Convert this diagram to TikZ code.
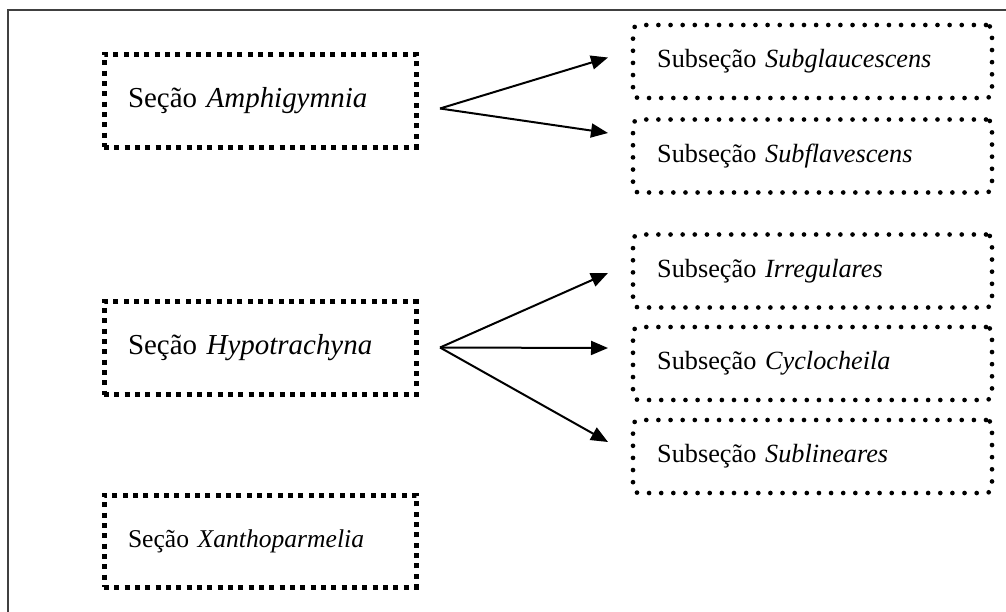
\documentclass[tikz,border=0pt]{standalone}
\usepackage{fontspec}
\setmainfont{Liberation Serif}
\usetikzlibrary{arrows.meta}

\tikzset{
  secao/.style={draw, line width=3.75pt, dash pattern={on 3.75pt off 4pt},
    minimum width=234pt, minimum height=69.75pt, inner xsep=18pt,
    text width=198pt, align=left},
  subsecao/.style={draw, line width=3.5pt, line cap=round, dash pattern={on 0pt off 9.1pt},
    rounded corners=4.5pt, minimum width=269.25pt, minimum height=54.75pt, inner xsep=18pt,
    text width=233pt, align=left, font=\fontsize{19.7}{23}\selectfont},
  seta/.style={line width=1.5pt, -{Triangle[length=12.75pt,width=10.5pt]}}
}

\begin{document}
\begin{tikzpicture}[x=0.75pt,y=0.75pt,yscale=-1,xscale=1]
    \useasboundingbox (0,0) rectangle (1006,611);
    %Frame
    \draw [color={black!75}, line width=1.5pt] (8,630) -- (8,10) -- (1030,10) ;
    
    %Secoes
    \node [secao, font=\fontsize{21.7}{26}\selectfont] (amphi) at (260,100.5) {\raisebox{-1.5pt}{Seção \textit{Amphigymnia}}};
    \node [secao, font=\fontsize{21.7}{26}\selectfont] (hypo) at (260,348) {\raisebox{-1.5pt}{Seção \textit{Hypotrachyna}}};
    \node [secao, font=\fontsize{19.2}{23}\selectfont, minimum height=69pt] (xantho) at (260,541) {\raisebox{-5pt}{Seção \textit{Xanthoparmelia}}};
    
    %Subsecoes
    \node [subsecao] (subglauc) at (812.5,61.5) {\raisebox{4.5pt}{Subseção \textit{Subglaucescens}}};
    \node [subsecao] (subflav) at (812.5,156) {\raisebox{4.5pt}{Subseção \textit{Subflavescens}}};
    \node [subsecao] (irreg) at (812.5,271) {\raisebox{4.5pt}{Subseção \textit{Irregulares}}};
    \node [subsecao] (cyclo) at (812.5,363.5) {\raisebox{4.5pt}{Subseção \textit{Cyclocheila}}};
    \node [subsecao] (sublin) at (812.5,456.5) {\raisebox{4.5pt}{Subseção \textit{Sublineares}}};
    
    %Pontos das setas
    \coordinate (amphiOrig) at (440,108.5);
    \coordinate (hypoOrig) at (440,347.5);
    \coordinate (subglaucEnd) at (608,57.5);
    \coordinate (subflavEnd) at (608,133);
    \coordinate (irregEnd) at (608,273);
    \coordinate (cycloEnd) at (608,348);
    \coordinate (sublinEnd) at (608,442);
    
    %Setas
    \draw [seta] (amphiOrig) -- (subglaucEnd) ;
    \draw [seta] (amphiOrig) -- (subflavEnd) ;
    \draw [seta] (hypoOrig) -- (irregEnd) ;
    \draw [seta] (hypoOrig) -- (cycloEnd) ;
    \draw [seta] (hypoOrig) -- (sublinEnd) ;
\end{tikzpicture}
\end{document}
